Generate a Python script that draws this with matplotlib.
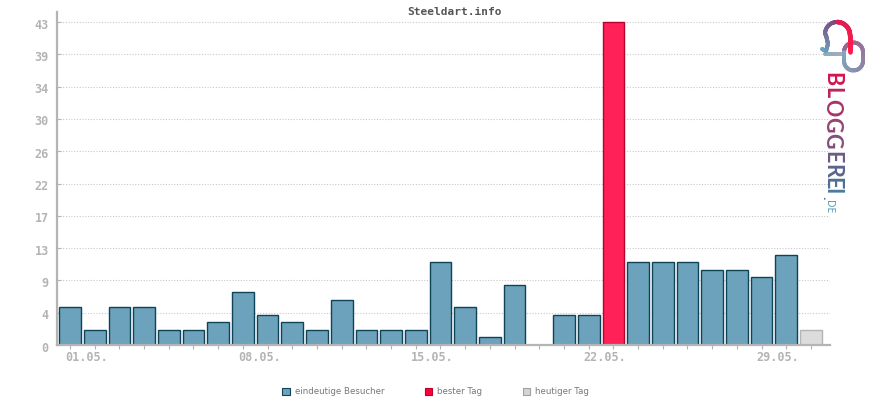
import numpy as np
import matplotlib
matplotlib.use('Agg')
import matplotlib.pyplot as plt
from matplotlib.patches import Patch
from matplotlib.collections import LineCollection
from matplotlib.colors import LinearSegmentedColormap
from matplotlib.transforms import ScaledTranslation

title = 'Steeldart.info'
visitors = [5, 2, 5, 5, 2, 2, 3, 7, 4, 3, 2, 6, 2, 2, 2, 11, 5, 1, 8, 0, 4, 4, 43,
            11, 11, 11, 10, 10, 9, 12, 2]
y_ticks = [0, 4.3, 8.6, 12.9, 17.2, 21.5, 25.8, 30.1, 34.4, 38.7, 43]
y_labels = ['0', '4', '9', '13', '17', '22', '26', '30', '34', '39', '43']
x_ticks = [0, 7, 14, 21, 28]
x_labels = ['01.05.', '08.05.', '15.05.', '22.05.', '29.05.']
legend_names = ['eindeutige Besucher', 'bester Tag', 'heutiger Tag']
logo_letters = list('BLOGGEREI')
logo_suffix = 'DE'

W, H = 870, 400
GRAY = '#b4b4b4'
mono = 'DejaVu Sans Mono'

fig = plt.figure(figsize=(W / 100, H / 100), dpi=100)
ax = fig.add_axes([57 / W, (H - 345) / H, (830 - 57) / W, (345 - 12) / H])

# bars, best day and today get their own colours
fills = ['#6ca2bb'] * len(visitors)
edges = ['#0f4358'] * len(visitors)
fills[22], edges[22] = '#ff2158', '#b8002f'
fills[30], edges[30] = '#dcdcdc', GRAY
x = np.arange(len(visitors))
bars = ax.bar(x, visitors, width=0.88, color=fills, edgecolor=edges, linewidth=1, zorder=2)
bars[19].set_visible(False)

ax.set_xlim((57 - 70) / 24.7, (830 - 70) / 24.7)
ax.set_ylim(0, 333 / 7.51)

ax.set_yticks(y_ticks)
ax.set_yticklabels(y_labels, family=mono, fontsize=8.5, color='#b4b4b4', fontweight='bold')
ax.yaxis.set_tick_params(direction='in', length=3, width=0.8, color=GRAY, pad=6)
ax.grid(axis='y', color='#c8c8c8', linestyle=(0, (1, 1.5)), linewidth=0.8, zorder=1)
for lab in ax.get_yticklabels():
    lab.set_transform(lab.get_transform() + ScaledTranslation(0, -1.5 / 100, fig.dpi_scale_trans))

ax.set_xticks(x, minor=True)
ax.tick_params(axis='x', which='minor', direction='out', length=3, width=0.8, color=GRAY)
ax.set_xticks(x_ticks)
ax.set_xticklabels(x_labels, family=mono, fontsize=8.5, color='#b4b4b4', ha='left', fontweight='bold')
ax.tick_params(axis='x', which='major', length=3, width=0.8, color=GRAY, pad=1)
for lab in ax.get_xticklabels():
    lab.set_transform(lab.get_transform() + ScaledTranslation(-5 / 100, 0, fig.dpi_scale_trans))

for s in ['top', 'right']:
    ax.spines[s].set_visible(False)
for s in ['left', 'bottom']:
    ax.spines[s].set_color(GRAY)
    ax.spines[s].set_linewidth(1.6)
    ax.spines[s].set_zorder(5)

fig.text(455 / W, 1 - 12 / H, title, family=mono, fontsize=8, color='#555555',
         fontweight='bold', ha='center', va='center')

handles = [Patch(facecolor='#6ca2bb', edgecolor='#0f4358', linewidth=0.8),
           Patch(facecolor='#ff003c', edgecolor='#b8002f', linewidth=0.8),
           Patch(facecolor='#d4d4d4', edgecolor='#a0a0a0', linewidth=0.8)]
fig.legend(handles, legend_names, ncol=3, loc='center', bbox_to_anchor=(435.5 / W, 1 - 392 / H),
           frameon=False, fontsize=6.2, labelcolor='#777777', handlelength=0.9, handleheight=1.0,
           handletextpad=0.55, columnspacing=4.7, borderpad=0)

# logo overlay in pixel coordinates
over = fig.add_axes([0, 0, 1, 1])
over.set_xlim(0, W)
over.set_ylim(H, 0)
over.axis('off')
over.patch.set_alpha(0)
logo_cmap = LinearSegmentedColormap.from_list('logo', ['#d0164f', '#8c4a78', '#4f6a90', '#4a93b4'])


def gradient_line(px, py, c0, c1, lw=4):
    px = np.asarray(px, float)
    py = np.asarray(py, float)
    t = np.linspace(0, 1, 80)
    s = np.r_[0, np.cumsum(np.hypot(np.diff(px), np.diff(py)))]
    xs = np.interp(t * s[-1], s, px)
    ys = np.interp(t * s[-1], s, py)
    pts = np.column_stack([xs, ys]).reshape(-1, 1, 2)
    segs = np.concatenate([pts[:-1], pts[1:]], axis=1)
    cm = LinearSegmentedColormap.from_list('seg', [c0, c1])
    over.add_collection(LineCollection(segs, colors=cm(t[:-1]), linewidth=lw * 0.72, capstyle='round'))


# chain link: bar into a stadium shaped loop
a = np.linspace(np.pi, 2 * np.pi, 20)
b = np.linspace(0, np.pi, 20)
loop_x = np.r_[853.5 + 9.5 * np.cos(a), 853.5 + 9.5 * np.cos(b), 844]
loop_y = np.r_[52 + 9.5 * np.sin(a), 61 + 9.5 * np.sin(b), 52]
gradient_line([825, 843], [54, 54], '#7fb0c4', '#b0a8b8')
gradient_line(loop_x, loop_y, '#a05c86', '#7fa8c0')
# main arc with the hook
arc = np.linspace(np.pi, 1.5 * np.pi, 15)
gradient_line(np.r_[822, 826, 828, 826, 837 + 12 * np.cos(arc)],
              np.r_[49, 51, 44, 35, 34 + 12 * np.sin(arc)], '#6fa8c0', '#7a4a80')
arc2 = np.linspace(1.5 * np.pi, 2 * np.pi, 15)
gradient_line(np.r_[837 + 13 * np.cos(arc2), 850], np.r_[35 + 13 * np.sin(arc2), 52], '#e01a55', '#ff1a4a', 4.5)

# rotated wordmark, one letter at a time for the colour fade
ypos = [79.5, 93, 107.5, 124.5, 141, 157, 171, 183, 191]
for i, ch in enumerate(logo_letters):
    over.text(832, ypos[i], ch, rotation=-90, family='Lato', fontsize=15.5, color=logo_cmap(i / 10),
              ha='center', va='center', fontweight='bold')
over.text(826, 198, '.', rotation=-90, family='Open Sans', fontsize=9, color='#4a6f98', ha='center', va='center', fontweight='bold')
over.text(828.5, 206.5, logo_suffix, rotation=-90, family='Open Sans', fontsize=7.5, color='#4a93b4', ha='center', va='center')

fig.savefig('out.png', dpi=100)
